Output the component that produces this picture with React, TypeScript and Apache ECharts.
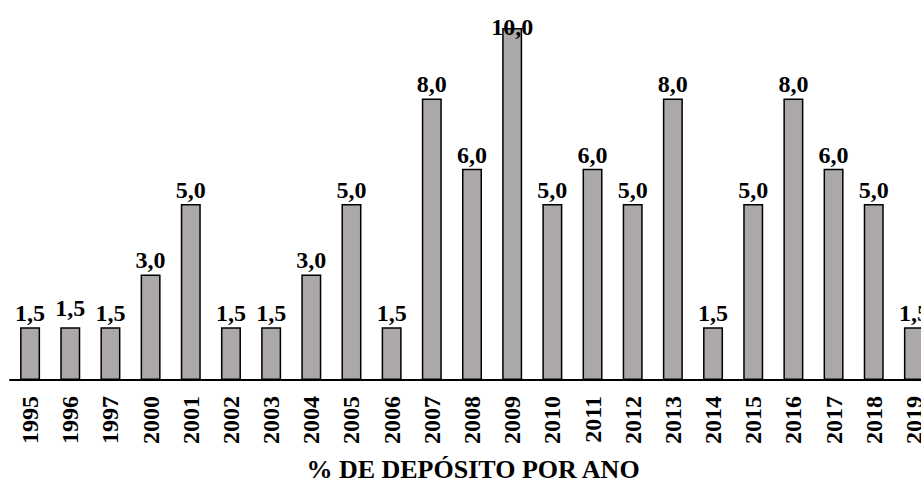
import React, { useEffect, useRef } from "react";
import * as echarts from "echarts";

const years = ["1995","1996","1997","2000","2001","2002","2003","2004","2005","2006","2007","2008","2009","2010","2011","2012","2013","2014","2015","2016","2017","2018","2019"];
const deposits = [1.5,1.5,1.5,3.0,5.0,1.5,1.5,3.0,5.0,1.5,8.0,6.0,10.0,5.0,6.0,5.0,8.0,1.5,5.0,8.0,6.0,5.0,1.5];
const chartTitle = "% DE DEPÓSITO POR ANO";

const FONT = "'Liberation Serif', 'Times New Roman', serif";

export default function App() {
  const ref = useRef<HTMLDivElement>(null);
  useEffect(() => {
    if (!ref.current) return;
    const chart = echarts.init(ref.current, null, { renderer: "svg" });
    const maxV = Math.max(...deposits);
    const data = deposits.map((v, i) => {
      const item: any = { value: v };
      if (v === maxV) item.label = { offset: [0, 13] };
      if (i === 1) item.label = { offset: [0, -5] };
      return item;
    });
    chart.setOption({
      animation: false,
      backgroundColor: "#ffffff",
      grid: { left: 10, top: 28, width: 924, height: 352, containLabel: false, outerBoundsMode: "none" },
      xAxis: {
        type: "category",
        data: years,
        axisLine: { show: true, lineStyle: { color: "#000", width: 2 } },
        axisTick: { show: false },
        axisLabel: {
          rotate: 90,
          margin: 16,
          color: "#000",
          fontFamily: FONT,
          fontWeight: "bold",
          fontSize: 24,
          interval: 0,
        },
      },
      yAxis: { type: "value", min: 0, max: 10, show: false, splitLine: { show: false } },
      graphic: [
        {
          type: "text",
          x: 473,
          y: 469,
          style: {
            text: chartTitle,
            fill: "#000",
            font: `bold 26px ${FONT}`,
            textAlign: "center",
            textVerticalAlign: "middle",
          },
        },
      ],
      series: [
        {
          type: "bar",
          data,
          barWidth: 20,
          itemStyle: { color: "#aca8a8", borderColor: "#000", borderWidth: 1.5 },
          label: {
            show: true,
            position: "top",
            distance: 2,
            color: "#000",
            fontFamily: FONT,
            fontWeight: "bold",
            fontSize: 24,
            formatter: (p: any) => Number(p.value).toFixed(1).replace(".", ","),
          },
        },
      ],
    });
    return () => chart.dispose();
  }, []);
  return <div ref={ref} style={{ position: "fixed", left: 0, top: 0, width: 921, height: 483 }} />;
}
